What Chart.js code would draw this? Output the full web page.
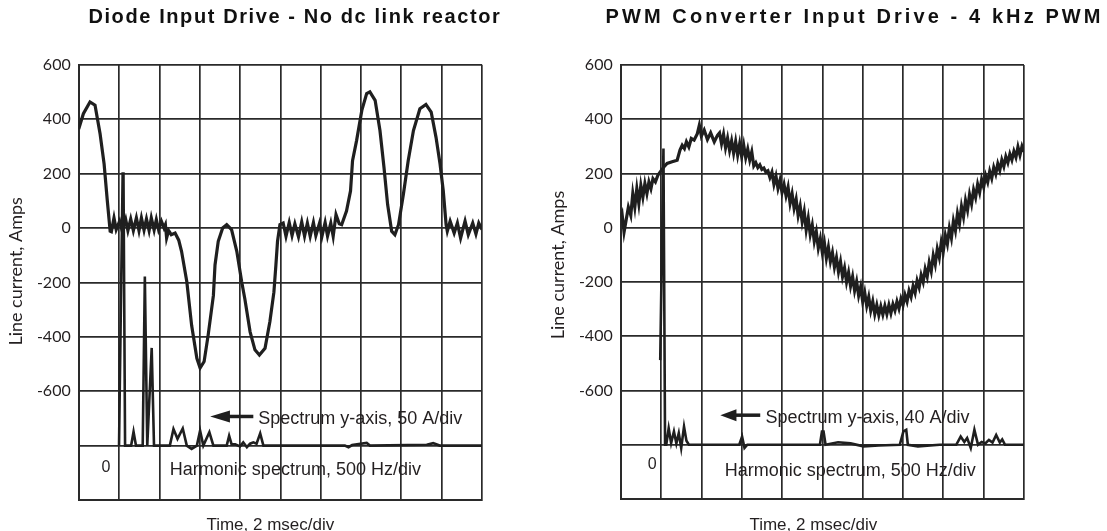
<!DOCTYPE html>
<html><head><meta charset="utf-8">
<script src="https://cdn.jsdelivr.net/npm/chart.js@4.4.1/dist/chart.umd.min.js"></script>
<style>
html,body{margin:0;padding:0;background:#fff;overflow:hidden;width:1107px;height:531px;}
#wrap{position:relative;width:1107px;height:531px;overflow:hidden;background:#fff;}
canvas{position:absolute;top:0;}
#c1{left:0px}
#c2{left:540px}
</style></head><body><div id="wrap"><canvas id="c1" width="540" height="531"></canvas><canvas id="c2" width="567" height="531"></canvas></div>
<script>
// ---------- text ----------
const leftTitle = 'Diode Input Drive - No dc link reactor';
const rightTitle = 'PWM Converter Input Drive - 4 kHz PWM';
const yAxisTitle = 'Line current, Amps';
const xAxisTitle = 'Time, 2 msec/div';
const leftSpecNote = 'Spectrum y-axis, 50 A/div';
const rightSpecNote = 'Spectrum y-axis, 40 A/div';
const freqNote = 'Harmonic spectrum, 500 Hz/div';
const specZeroLabel = '0';
const yTickLabels = ['600', '400', '200', '0', '-200', '-400', '-600'];

// ---------- left panel: diode input drive (x in divisions of 2 ms) ----------
const leftWaveT = [0, 0.116, 0.28, 0.405, 0.53, 0.63, 0.71, 0.78, 0.81, 0.875, 0.93, 1.015, 1.08, 1.165, 1.22, 1.29, 1.355, 1.43, 1.495, 1.555, 1.62, 1.68, 1.745, 1.80, 1.87, 1.925, 1.98, 2.05, 2.115, 2.15, 2.18, 2.23, 2.295, 2.39, 2.48, 2.55, 2.68, 2.80, 2.93, 3.01, 3.11, 3.21, 3.34, 3.38, 3.46, 3.57, 3.67, 3.79, 3.92, 4.04, 4.12, 4.25, 4.37, 4.48, 4.62, 4.74, 4.84, 4.89, 4.93, 4.99, 5.07, 5.14, 5.22, 5.29, 5.36, 5.45, 5.53, 5.60, 5.67, 5.74, 5.82, 5.88, 5.97, 6.03, 6.11, 6.17, 6.25, 6.31, 6.38, 6.46, 6.52, 6.64, 6.74, 6.79, 6.89, 7.02, 7.14, 7.22, 7.35, 7.47, 7.57, 7.66, 7.76, 7.84, 7.93, 8.05, 8.17, 8.30, 8.46, 8.61, 8.74, 8.86, 8.96, 9.04, 9.11, 9.14, 9.21, 9.31, 9.39, 9.47, 9.58, 9.66, 9.77, 9.85, 9.92, 10];
const leftWaveA = [364, 420, 463, 451, 346, 235, 99, -12, -14, 37, -6, 25, -12, 31, -10, 33, -10, 37, -10, 37, -8, 33, -10, 37, -8, 31, -6, 25, 0, 12, -37, -10, -25, -19, -45, -86, -197, -358, -479, -515, -491, -394, -248, -136, -49, 0, 12, -6, -86, -197, -261, -382, -448, -467, -442, -345, -236, -136, -49, 12, 18, -31, 20, -28, 15, -33, 22, -30, 18, -31, 20, -28, 17, -32, 20, -30, 18, -31, 49, 15, 12, 62, 136, 247, 321, 432, 494, 500, 469, 358, 222, 86, -12, -25, 12, 123, 247, 358, 438, 454, 426, 333, 235, 136, 12, -12, 25, -19, 18, -37, 25, -25, 18, -22, 18, -6];
const leftSpecT = [1.0, 1.09, 1.11, 1.15, 1.30, 1.36, 1.42, 1.587, 1.64, 1.70, 1.81, 1.867, 2.26, 2.35, 2.45, 2.58, 2.68, 2.80, 2.93, 3.01, 3.09, 3.24, 3.34, 3.67, 3.73, 3.79, 3.88, 4.0, 4.08, 4.17, 4.25, 4.33, 4.41, 4.50, 4.58, 6.60, 6.69, 6.78, 7.14, 7.22, 8.63, 8.79, 8.95, 10];
const leftSpecA = [-800, 200, 200, -800, -800, -749, -800, -800, -179, -800, -441, -800, -800, -739, -775, -737, -800, -812, -800, -745, -800, -751, -800, -800, -764, -795, -795, -803, -788, -806, -793, -788, -793, -755, -800, -800, -806, -798, -790, -800, -797, -791, -800, -800];

// ---------- right panel: PWM converter input drive ----------
const rightWaveT = [0, 0.033, 0.083, 0.133, 0.19, 0.25, 0.30, 0.35, 0.40, 0.45, 0.50, 0.55, 0.60, 0.65, 0.70, 0.75, 0.80, 0.86, 0.92, 0.98, 1.07, 1.15, 1.275, 1.40, 1.47, 1.525, 1.58, 1.63, 1.69, 1.75, 1.82, 1.90, 1.95, 2.00, 2.07, 2.15, 2.23, 2.32, 2.40, 2.45, 2.50, 2.55, 2.60, 2.65, 2.70, 2.75, 2.80, 2.85, 2.90, 2.95, 3.00, 3.05, 3.10, 3.15, 3.20, 3.25, 3.30, 3.35, 3.40, 3.45, 3.50, 3.55, 3.60, 3.65, 3.70, 3.75, 3.80, 3.85, 3.90, 3.95, 4.00, 4.05, 4.10, 4.15, 4.20, 4.25, 4.30, 4.35, 4.40, 4.45, 4.50, 4.55, 4.60, 4.65, 4.70, 4.75, 4.80, 4.85, 4.90, 4.95, 5.00, 5.05, 5.10, 5.15, 5.20, 5.25, 5.30, 5.35, 5.40, 5.45, 5.50, 5.55, 5.60, 5.65, 5.70, 5.75, 5.80, 5.85, 5.90, 5.95, 6.00, 6.05, 6.10, 6.15, 6.20, 6.25, 6.30, 6.35, 6.40, 6.45, 6.50, 6.55, 6.60, 6.65, 6.70, 6.75, 6.80, 6.85, 6.90, 6.95, 7.00, 7.05, 7.10, 7.15, 7.20, 7.25, 7.30, 7.35, 7.40, 7.45, 7.50, 7.55, 7.60, 7.65, 7.70, 7.75, 7.80, 7.85, 7.90, 7.95, 8.00, 8.05, 8.10, 8.15, 8.20, 8.25, 8.30, 8.35, 8.40, 8.45, 8.50, 8.55, 8.60, 8.65, 8.70, 8.75, 8.80, 8.85, 8.90, 8.95, 9.00, 9.05, 9.10, 9.15, 9.20, 9.25, 9.30, 9.35, 9.40, 9.45, 9.50, 9.55, 9.60, 9.65, 9.70, 9.75, 9.80, 9.85, 9.90, 9.95, 10.00];
const rightWaveA = [39, 52, -16, 27, 76, 46, 126, 76, 144, 89, 156, 113, 163, 126, 169, 144, 181, 169, 193, 206, 224, 237, 243, 249, 286, 304, 292, 317, 298, 329, 323, 347, 378, 338, 360, 325, 350, 317, 341, 350, 310, 345, 295, 330, 285, 320, 275, 318, 268, 310, 262, 305, 258, 290, 250, 280, 228, 240, 222, 232, 215, 220, 205, 210, 185, 205, 160, 190, 145, 175, 130, 160, 118, 150, 90, 125, 72, 105, 45, 80, 22, 60, -8, 35, -25, 10, -50, -15, -75, -40, -92, -55, -112, -72, -125, -92, -145, -110, -162, -125, -180, -148, -200, -165, -215, -180, -232, -198, -250, -218, -272, -238, -288, -255, -305, -272, -318, -285, -322, -290, -320, -288, -318, -285, -315, -282, -305, -272, -298, -262, -285, -248, -272, -232, -255, -215, -240, -195, -220, -175, -200, -152, -180, -128, -160, -102, -135, -78, -110, -52, -85, -28, -60, -2, -38, 25, -10, 52, 15, 78, 40, 100, 65, 122, 88, 140, 112, 160, 130, 178, 150, 192, 168, 208, 182, 222, 198, 236, 212, 250, 226, 262, 240, 272, 250, 282, 260, 298, 268, 300, 280];
const rightSpecT = [0.98, 1.06, 1.10, 1.13, 1.19, 1.25, 1.32, 1.38, 1.44, 1.50, 1.57, 1.63, 1.69, 2.94, 3.01, 3.07, 3.14, 4.94, 4.99, 5.03, 5.08, 5.39, 5.70, 6.02, 6.40, 6.92, 7.01, 7.08, 7.12, 7.37, 7.91, 8.32, 8.43, 8.52, 8.59, 8.68, 8.77, 8.86, 8.95, 9.04, 9.13, 9.22, 9.31, 9.40, 9.46, 9.53, 10];
const rightSpecA = [-488, 292, -800, -800, -739, -794, -751, -795, -757, -812, -733, -785, -800, -800, -770, -812, -800, -800, -751, -751, -800, -791, -795, -806, -803, -800, -751, -745, -800, -806, -800, -800, -770, -790, -775, -812, -745, -800, -790, -795, -782, -792, -764, -792, -780, -800, -800];

// ---------- helpers ----------
const INK = '#1f1f1f';
const GRID = '#2a2a2a';
function pts(xs, ys) { return xs.map((x, i) => ({x: x, y: ys[i]})); }

const panelText = {
  id: 'panelText',
  afterDatasetsDraw(chart, args, o) {
    const {ctx, chartArea: ca} = chart;
    const x = chart.scales.x, y = chart.scales.y;
    const cx = (ca.left + ca.right) / 2, cy = (ca.top + ca.bottom) / 2;
    ctx.save();
    // panel title
    ctx.fillStyle = '#111';
    ctx.font = 'bold 20px "Liberation Sans", Arial, sans-serif';
    if ('letterSpacing' in ctx) ctx.letterSpacing = o.titleSpacing + 'px';
    ctx.textAlign = 'center';
    ctx.textBaseline = 'alphabetic';
    ctx.fillText(o.title, cx + o.titleDx, 23);
    if ('letterSpacing' in ctx) ctx.letterSpacing = '0px';
    // axis titles
    ctx.fillStyle = '#231f20';
    ctx.font = '17px "Liberation Sans", Arial, sans-serif';
    ctx.fillText(xAxisTitle, cx + o.xTitleDx, 529.5);
    ctx.save();
    ctx.translate(o.yTitleX, cy + o.yTitleDy);
    ctx.rotate(-Math.PI / 2);
    ctx.font = '18px Lato, "Liberation Sans", sans-serif';
    ctx.textBaseline = 'middle';
    ctx.fillText(yAxisTitle, 0, 0);
    ctx.restore();
    // arrow
    const ay = y.getPixelForValue(o.arrowA);
    const tip = x.getPixelForValue(o.arrowTip), base = x.getPixelForValue(o.arrowBase), tail = x.getPixelForValue(o.arrowTail);
    ctx.strokeStyle = INK; ctx.fillStyle = INK; ctx.lineWidth = 3.5;
    ctx.beginPath(); ctx.moveTo(base - 1, ay); ctx.lineTo(tail, ay); ctx.stroke();
    ctx.beginPath(); ctx.moveTo(tip, ay); ctx.lineTo(base, ay - 6); ctx.lineTo(base, ay + 6); ctx.closePath(); ctx.fill();
    // notes
    ctx.fillStyle = '#231f20';
    ctx.font = '18px "Liberation Sans", Arial, sans-serif';
    ctx.textAlign = 'left';
    ctx.textBaseline = 'alphabetic';
    ctx.fillText(o.note, x.getPixelForValue(o.noteT), y.getPixelForValue(o.noteA));
    ctx.fillText(freqNote, x.getPixelForValue(o.freqT), y.getPixelForValue(o.freqA));
    ctx.textAlign = 'center';
    ctx.font = '16px "Liberation Sans", Arial, sans-serif';
    ctx.fillText(specZeroLabel, x.getPixelForValue(o.zeroT), y.getPixelForValue(o.zeroA));
    ctx.restore();
  }
};

function makeChart(id, c) {
  return new Chart(document.getElementById(id), {
    type: 'line',
    data: {datasets: [
      {data: pts(c.waveT, c.waveA), borderColor: INK, borderWidth: 3.2, pointRadius: 0, tension: 0, fill: false},
      {data: pts(c.specT, c.specA), borderColor: INK, borderWidth: 2.6, pointRadius: 0, tension: 0, fill: false}
    ]},
    options: {
      responsive: false, animation: false, devicePixelRatio: 1,
      layout: {padding: {left: 0, right: c.padR, top: c.top, bottom: 0}},
      plugins: {legend: {display: false}, tooltip: {enabled: false}, title: {display: false}, panelText: c.text},
      scales: {
        x: {type: 'linear', min: 0, max: 10,
            ticks: {stepSize: 1, display: false},
            grid: {color: GRID, lineWidth: 1.7, drawTicks: false},
            border: {color: GRID, width: 2},
            title: {display: false, text: xAxisTitle},
            afterFit(s) { s.height = c.xH; }},
        y: {type: 'linear', min: -1000, max: 600,
            ticks: {stepSize: 200, padding: 8, color: '#231f20', font: {family: 'Lato, "Liberation Sans", sans-serif', size: 16},
                    callback: (v) => yTickLabels.includes(String(v)) ? String(v) : ''},
            grid: {color: GRID, lineWidth: 1.7, drawTicks: false},
            border: {color: GRID, width: 2},
            title: {display: false, text: yAxisTitle},
            afterFit(s) { s.width = c.yW; }}
      }
    },
    plugins: [panelText]
  });
}

makeChart('c1', {
  waveT: leftWaveT, waveA: leftWaveA, specT: leftSpecT, specA: leftSpecA,
  padR: 58, yW: 78.7, xH: 31, top: 64.7,
  text: {title: leftTitle, titleDx: 14.6, titleSpacing: 1.6, note: leftSpecNote,
         xTitleDx: -10, yTitleX: 16.5, yTitleDy: -11,
         arrowA: -693, arrowTip: 3.26, arrowBase: 3.75, arrowTail: 4.33,
         noteT: 4.45, noteA: -721, freqT: 2.26, freqA: -909, zeroT: 0.674, zeroA: -897}
});
makeChart('c2', {
  waveT: rightWaveT, waveA: rightWaveA, specT: rightSpecT, specA: rightSpecA,
  padR: 83, yW: 80.7, xH: 32, top: 65,
  text: {title: rightTitle, titleDx: 32.2, titleSpacing: 3.1, note: rightSpecNote,
         xTitleDx: -9, yTitleX: 18, yTitleDy: -17,
         arrowA: -691, arrowTip: 2.47, arrowBase: 2.87, arrowTail: 3.46,
         noteT: 3.59, noteA: -721, freqT: 2.58, freqA: -915, zeroT: 0.78, zeroA: -891}
});
</script></body></html>
